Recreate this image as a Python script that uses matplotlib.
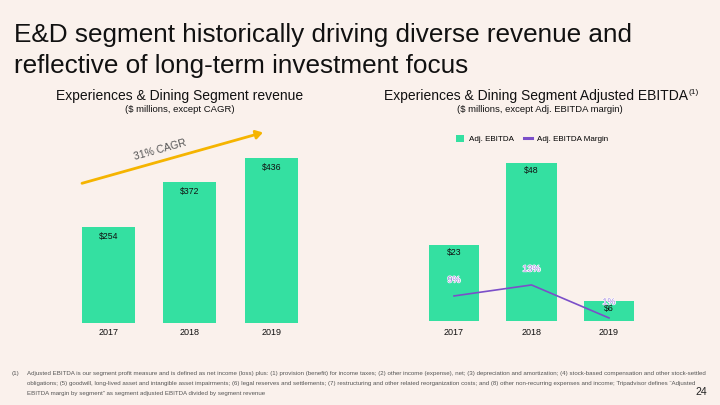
import matplotlib
matplotlib.use("Agg")
import matplotlib.pyplot as plt
import matplotlib.patheffects as pe
from matplotlib.patches import Patch, FancyArrowPatch
from matplotlib.lines import Line2D

years = ["2017", "2018", "2019"]
revenue = [254, 372, 436]
revenue_labels = ["$254", "$372", "$436"]
ebitda = [23, 48, 6]
ebitda_labels = ["$23", "$48", "$6"]
margin = [9, 13, 1]
margin_labels = ["9%", "13%", "1%"]

BG = "#faf1ec"
GREEN = "#34e0a1"
PURPLE = "#7b4fc9"
LAV = "#9d80de"
FONT = "Liberation Sans"
plt.rcParams["font.family"] = [FONT, "DejaVu Sans"]

W, H = 720, 405
fig = plt.figure(figsize=(7.2, 4.05), dpi=100, facecolor=BG)

def fx(px):
    return px / W

def fy(py):
    return 1 - py / H

# Title
fig.text(fx(14), fy(35), "E&D segment historically driving diverse revenue and",
         fontsize=18.8, va="center", ha="left", color="#111111")
fig.text(fx(14), fy(66), "reflective of long-term investment focus",
         fontsize=18.8, va="center", ha="left", color="#111111")

# Subtitles
fig.text(fx(180), fy(96), "Experiences & Dining Segment revenue",
         fontsize=10, ha="center", va="center", color="#111111")
fig.text(fx(180), fy(109), "($ millions, except CAGR)",
         fontsize=6.8, ha="center", va="center", color="#111111")
t = fig.text(fx(536), fy(96), "Experiences & Dining Segment Adjusted EBITDA",
             fontsize=10, ha="center", va="center", color="#111111")
fig.canvas.draw()
bb = t.get_window_extent()
fig.text(bb.x1 / W + fx(0.5), fy(92), "(1)", fontsize=6, ha="left", va="center",
         color="#111111")
fig.text(fx(540), fy(109), "($ millions, except Adj. EBITDA margin)",
         fontsize=6.8, ha="center", va="center", color="#111111")

# Left chart
lw_px = 244.5
lleft = 108.3 - lw_px / 6
lbottom = 322.7
lscale = 0.378
ltop_val = 500
lh_px = ltop_val * lscale
axL = fig.add_axes([fx(lleft), fy(lbottom), fx(lw_px), lh_px / H])
axL.set_facecolor("none")
x = list(range(len(years)))
axL.bar(x, revenue, width=0.65, color=GREEN)
axL.set_xlim(-0.5, 2.5)
axL.set_ylim(0, ltop_val)
for xi, v, lab in zip(x, revenue, revenue_labels):
    axL.annotate(lab, (xi, v), xytext=(0, -7), textcoords="offset points",
                 ha="center", va="center", fontsize=6.3, color="#111111")
axL.set_xticks(x)
axL.set_xticklabels(years, fontsize=6.5, color="#111111")
axL.tick_params(axis="x", length=0, pad=4)
axL.set_yticks([])
for s in axL.spines.values():
    s.set_visible(False)

# CAGR arrow
fig.add_artist(FancyArrowPatch(
    (fx(82), fy(183.3)), (fx(263), fy(132.5)), transform=fig.transFigure,
    arrowstyle="-|>,head_length=4,head_width=2.5", color="#f5b400", lw=2,
    shrinkA=0, shrinkB=0, mutation_scale=1))
fig.text(fx(160), fy(150), "31% CAGR", rotation=15.6, fontsize=7.5,
         ha="center", va="center", color="#555555")

# Right chart
rw_px = 232.5
rleft = 454 - rw_px / 6
rbottom = 320.7
rscale = 158 / 48
rtop_val = 60
rh_px = rtop_val * rscale
axR = fig.add_axes([fx(rleft), fy(rbottom), fx(rw_px), rh_px / H])
axR.set_facecolor("none")
axR.bar(x, ebitda, width=0.65, color=GREEN)
axR.set_xlim(-0.5, 2.5)
axR.set_ylim(0, rtop_val)
for xi, v, lab in zip(x, ebitda, ebitda_labels):
    axR.annotate(lab, (xi, v), xytext=(0, -5.6), textcoords="offset points",
                 ha="center", va="center", fontsize=6.3, color="#111111")
axR.set_xticks(x)
axR.set_xticklabels(years, fontsize=6.5, color="#111111")
axR.tick_params(axis="x", length=0, pad=5)
axR.set_yticks([])
for s in axR.spines.values():
    s.set_visible(False)

axM = axR.twinx()
axM.plot(x, margin, color=PURPLE, lw=1.2)
axM.set_ylim(0, rh_px / 2.75)
axM.set_yticks([])
for s in axM.spines.values():
    s.set_visible(False)
for xi, v, lab in zip(x, margin, margin_labels):
    axM.annotate(lab, (xi, v), xytext=(0, 11.5), textcoords="offset points",
                 ha="center", va="center", fontsize=6.5, color=LAV,
                 path_effects=[pe.withStroke(linewidth=1.0, foreground="white")])

handles = [Patch(facecolor=GREEN, edgecolor="none", label="Adj. EBITDA"),
           Line2D([0], [0], color=PURPLE, lw=2.2, label="Adj. EBITDA Margin")]
fig.legend(handles=handles, loc="center", bbox_to_anchor=(fx(532), fy(139)),
           ncol=2, frameon=False, fontsize=5.8, handlelength=1.0, handleheight=0.9,
           handletextpad=0.6, columnspacing=1.2)

# Footnote
foot_lines = [
    "Adjusted EBITDA is our segment profit measure and is defined as net income (loss) plus: (1) provision (benefit) for income taxes; (2) other income (expense), net; (3) depreciation and amortization; (4) stock-based compensation and other stock-settled",
    "obligations; (5) goodwill, long-lived asset and intangible asset impairments; (6) legal reserves and settlements; (7) restructuring and other related reorganization costs; and (8) other non-recurring expenses and income; Tripadvisor defines \u201cAdjusted",
    "EBITDA margin by segment\u201d as segment adjusted EBITDA divided by segment revenue",
]
fig.text(fx(12), fy(374), "(1)", fontsize=4.5, color="#555555", va="center", ha="left")
for i, line in enumerate(foot_lines):
    fig.text(fx(27), fy(374 + 9.5 * i), line, fontsize=4.38, color="#555555",
             va="center", ha="left")
fig.text(fx(707), fy(392), "24", fontsize=7.5, color="#222222", ha="right", va="center")

fig.savefig("out.png", dpi=100, facecolor=BG)
